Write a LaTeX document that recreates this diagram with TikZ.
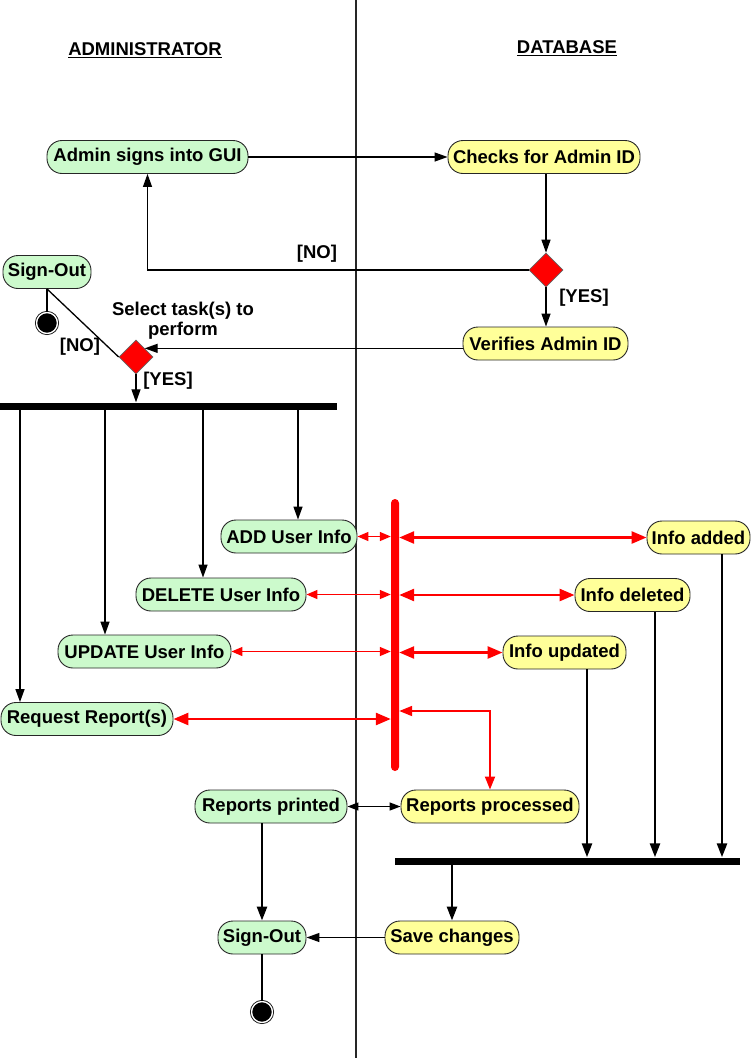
\documentclass[tikz,border=0pt]{standalone}
\usepackage{fontspec}
\setmainfont{Liberation Sans}
\usetikzlibrary{arrows.meta,shapes.geometric,calc}
\definecolor{actgreen}{RGB}{204,250,204}
\definecolor{actyellow}{RGB}{255,255,153}
\definecolor{darkred}{RGB}{255,0,0}
\begin{document}
\begin{tikzpicture}[x=1pt,y=-1pt,
  act/.style={draw=black!85, line width=0.9pt, rounded corners=15pt, minimum height=33pt,
    inner xsep=2pt, inner ysep=0pt, font=\bfseries\fontsize{18.5}{21}\selectfont},
  green/.style={act, fill=actgreen},
  yellow/.style={act, fill=actyellow},
  lbl/.style={font=\bfseries\fontsize{18.5}{21}\selectfont, inner sep=1pt},
  decision/.style={diamond, fill=red, draw=black!60, line width=0.6pt, minimum width=34pt, minimum height=34pt, inner sep=0pt},
  bar/.style={fill=black, inner sep=0pt, minimum height=7pt},
  endnode/.style={circle, draw=black, double=white, double distance=1.4pt, line width=0.8pt, fill=black, minimum size=21pt, inner sep=0pt},
  arr/.style={line width=1.3pt, -{Triangle[length=13pt,width=9pt]}},
  tarr/.style={line width=2.6pt, -{Triangle[length=14pt,width=10pt]}},
  rthin/.style={draw=darkred, line width=1.4pt, {Triangle[length=11pt,width=9pt]}-{Triangle[length=11pt,width=9pt]}},
  rthick/.style={draw=darkred, line width=2.6pt, {Triangle[length=15pt,width=12pt]}-{Triangle[length=15pt,width=12pt]}}
]
\useasboundingbox (0,0) rectangle (752,1058);
% swimlane divider
\coordinate (ltop) at (356,0);
\coordinate (lbot) at (356,1058);
\draw[line width=1.3pt, black!85] (ltop) -- (lbot);

% headers
\node[lbl] (hadmin) at (145,50) {\underline{ADMINISTRATOR}};
\node[lbl] (hdb) at (567,48) {\underline{DATABASE}};

% activity nodes
\node[green, minimum width=201pt] (admin) at (147.5,157) {Admin signs into GUI};
\node[yellow, minimum width=192pt] (checks) at (544,157) {Checks for Admin ID};
\node[decision] (d1) at (546,270) {};
\node[yellow, minimum width=165pt] (verify) at (545.5,343.5) {Verifies Admin ID};
\node[green, minimum width=88pt] (so1) at (47,272) {Sign-Out};
\node[endnode] (end1) at (47,323) {};
\node[decision] (d2) at (136,357) {};
\node[bar, minimum width=337pt] (bar1) at (168.5,406) {};

\node[green, minimum width=136pt] (add) at (289,536.5) {ADD User Info};
\node[green, minimum width=170pt] (del) at (221,594.5) {DELETE User Info};
\node[green, minimum width=173pt] (upd) at (144.5,651.5) {UPDATE User Info};
\node[green, minimum width=172pt] (req) at (87,719) {Request Report(s)};

\node[fill=darkred, minimum width=8pt, minimum height=272pt, rounded corners=4pt, inner sep=0pt] (rbar) at (395,635) {};

\node[yellow, minimum width=103pt] (iadd) at (698.5,537.5) {Info added};
\node[yellow, minimum width=115pt] (idel) at (632.5,595) {Info deleted};
\node[yellow, minimum width=123pt] (iupd) at (564.5,652.5) {Info updated};

\node[yellow, minimum width=178pt] (proc) at (490,806.5) {Reports processed};
\node[green, minimum width=152pt] (print) at (271,806.5) {Reports printed};
\node[bar, minimum width=345pt] (bar2) at (567.5,861) {};
\node[yellow, minimum width=134pt] (save) at (452,937.5) {Save changes};
\node[green, minimum width=88pt] (so2) at (262,937.5) {Sign-Out};
\node[endnode] (end2) at (262,1012) {};

% labels
\node[lbl] (lno1) at (317,254) {[NO]};
\node[lbl] (lyes1) at (584,298) {[YES]};
\node[lbl, align=center] (lsel) at (183,321) {Select task(s) to\\[-1pt]perform};
\node[lbl] (lno2) at (80,347) {[NO]};
\node[lbl] (lyes2) at (168,381) {[YES]};

% top flow
\draw[arr] (admin.east) -- (checks.west);
\draw[arr] (checks.south -| d1.north) -- (d1.north);
\draw[arr] (d1.west) -| (admin.south);
\draw[arr] (d1.south) -- (verify.north -| d1.south);
\draw[arr] (d2.north east -| verify.west) -- (d2.north east);
\draw[line width=1.3pt] (so1.south) -- (d2.west);
\draw[line width=1.3pt] (so1.south) -- (end1.north);
\draw[arr] (d2.south) -- (bar1.north -| d2.south);

% fork
\draw[arr] (bar1.south -| 20,0) -- (req.north -| 20,0);
\draw[arr] (bar1.south -| 105,0) -- (upd.north -| 105,0);
\draw[arr] (bar1.south -| 203,0) -- (del.north -| 203,0);
\draw[arr] (bar1.south -| 298,0) -- (add.north -| 298,0);

% red links
\draw[rthin] (add.east) -- (rbar.west |- add.east);
\draw[rthick] (rbar.east |- iadd.west) -- (iadd.west);
\draw[rthin] (del.east) -- (rbar.west |- del.east);
\draw[rthick] (rbar.east |- idel.west) -- (idel.west);
\draw[rthin] (upd.east) -- (rbar.west |- upd.east);
\draw[rthick] (rbar.east |- iupd.west) -- (iupd.west);
\draw[rthick] (req.east) -- (rbar.west |- req.east);
\draw[draw=darkred, line width=1.8pt, {Triangle[length=13pt,width=10pt]}-{Triangle[length=13pt,width=10pt]}] (rbar.east |- 0,711) -| (proc.north);

% join
\draw[tarr] (iupd.south -| 587,0) -- (bar2.north -| 587,0);
\draw[tarr] (idel.south -| 655,0) -- (bar2.north -| 655,0);
\draw[tarr] (iadd.south -| 722,0) -- (bar2.north -| 722,0);
\draw[tarr] (bar2.south -| save.north) -- (save.north);

% bottom
\draw[line width=1.3pt, {Triangle[length=11pt,width=8pt]}-{Triangle[length=11pt,width=8pt]}] (print.east) -- (proc.west);
\draw[tarr] (print.south -| so2.north) -- (so2.north);
\draw[arr] (save.west) -- (so2.east);
\draw[line width=1.3pt] (so2.south) -- (end2.north);
\end{tikzpicture}
\end{document}
